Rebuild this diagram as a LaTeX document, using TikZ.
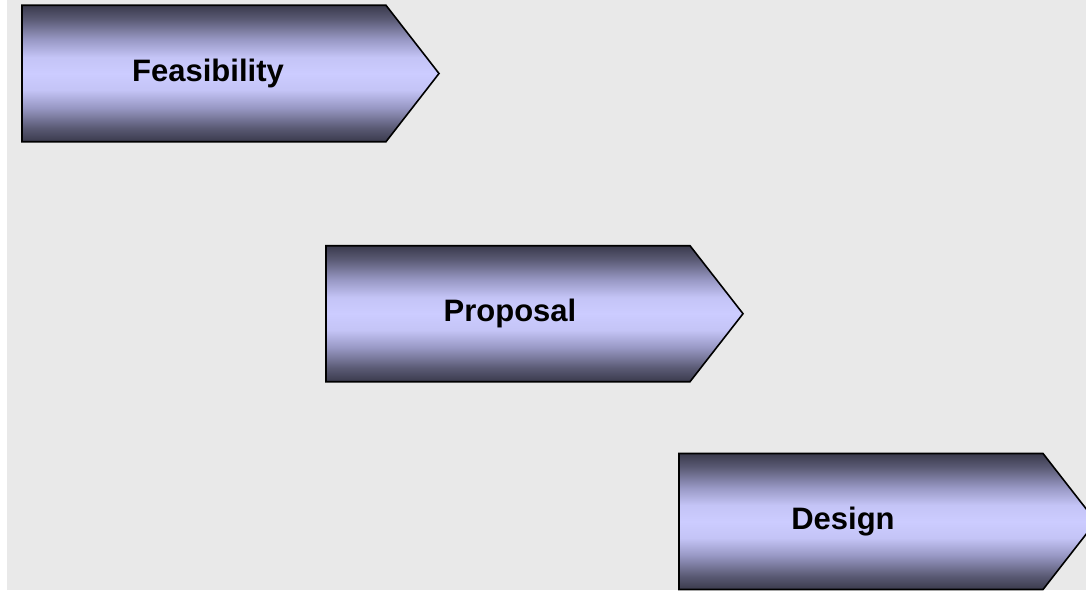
\documentclass[tikz,border=0pt]{standalone}
\usepackage{fontspec}
\setmainfont{Liberation Sans}
\definecolor{bggray}{HTML}{E9E9E9}
\pgfdeclareverticalshading{phaseshade}{100bp}{%
  rgb(0bp)=(0.227,0.227,0.298);
  rgb(25bp)=(0.227,0.227,0.298);
  rgb(30bp)=(0.353,0.353,0.455);
  rgb(37.5bp)=(0.596,0.596,0.769);
  rgb(44bp)=(0.769,0.769,0.965);
  rgb(50bp)=(0.8,0.8,1);
  rgb(56bp)=(0.769,0.769,0.965);
  rgb(62.5bp)=(0.596,0.596,0.769);
  rgb(70bp)=(0.353,0.353,0.455);
  rgb(75bp)=(0.227,0.227,0.298);
  rgb(100bp)=(0.227,0.227,0.298)}
\begin{document}
\begin{tikzpicture}[x=1pt,y=-1pt,
  phase/.style={draw=black, line width=1.6pt, line join=miter, shading=phaseshade},
  phaselabel/.style={font=\fontsize{31}{37}\selectfont\bfseries, text=black, inner sep=0pt, anchor=center}]
\useasboundingbox (0,0) rectangle (1086,591);
\clip (0,0) rectangle (1086,591);
\fill[white] (0,0) rectangle (1086,591);
\fill[bggray] (7,0) rectangle (1086,590);
% box 1
\path[phase] (22,5.3) -- (386,5.3) -- (439,73.5) -- (386,141.7) -- (22,141.7) -- cycle;
\node[phaselabel] (feas) at (208,73.5) {Feasibility};
% box 2
\path[phase] (326,245.7) -- (690,245.7) -- (743,313.7) -- (690,381.7) -- (326,381.7) -- cycle;
\node[phaselabel] (prop) at (510,313.7) {Proposal};
% box 3
\path[phase] (679,453.5) -- (1043,453.5) -- (1096,521.5) -- (1043,589.5) -- (679,589.5) -- cycle;
\node[phaselabel] (design) at (843,521.5) {Design};
\end{tikzpicture}
\end{document}
